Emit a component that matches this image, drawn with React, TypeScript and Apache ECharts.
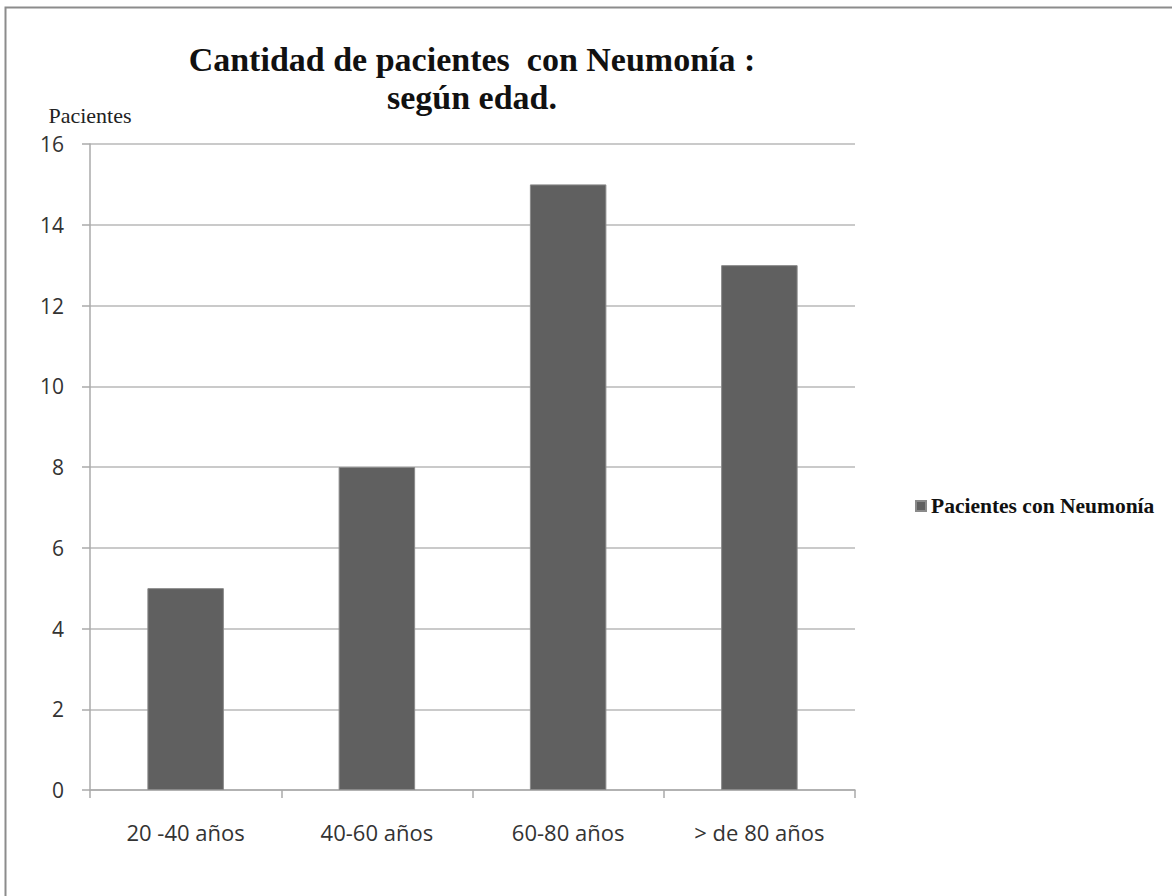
import React, { useEffect, useRef } from "react";
import * as echarts from "echarts";

const categories = ["20 -40 años", "40-60 años", "60-80 años", "> de 80 años"];
const values = [5, 8, 15, 13];
const seriesName = "Pacientes con Neumonía";
const titleLines = ["Cantidad de pacientes  con Neumonía :", "según edad."];
const yAxisName = "Pacientes";

export default function App() {
  const ref = useRef<HTMLDivElement>(null);
  useEffect(() => {
    if (!ref.current) return;
    const chart = echarts.init(ref.current, null, { renderer: "svg" });
    chart.setOption({
      animation: false,
      backgroundColor: "#ffffff",
      title: {
        text: titleLines.join("\n"),
        left: 467,
        textAlign: "center",
        top: 35,
        textStyle: {
          fontFamily: "Liberation Serif",
          fontWeight: "bold",
          fontSize: 34,
          lineHeight: 38,
          color: "#111111",
        },
      },
      legend: {
        orient: "vertical",
        left: 910,
        top: 490,
        itemWidth: 10,
        itemHeight: 10,
        itemGap: 4,
        icon: "rect",
        textStyle: {
          fontFamily: "Liberation Serif",
          fontWeight: "bold",
          fontSize: 21.5,
          color: "#111111",
        },
        data: [seriesName],
      },
      grid: { left: 90, right: 317, top: 144, bottom: 106 },
      xAxis: {
        type: "category",
        data: categories,
        boundaryGap: true,
        axisLine: { lineStyle: { color: "#aaaaaa", width: 1.5 } },
        axisTick: { show: true, length: 8, alignWithLabel: false, lineStyle: { color: "#aaaaaa", width: 1.5 } },
        axisLabel: {
          margin: 31,
          fontFamily: "Open Sans",
          fontSize: 22,
          color: "#333333",
        },
      },
      yAxis: {
        type: "value",
        min: 0,
        max: 16,
        interval: 2,
        name: yAxisName,
        nameLocation: "end",
        nameGap: 18,
        nameTextStyle: {
          fontFamily: "Liberation Serif",
          fontSize: 22,
          color: "#222222",
          align: "center",
        },
        axisLine: { show: true, lineStyle: { color: "#aaaaaa", width: 1.5 } },
        axisTick: { show: true, length: 8, lineStyle: { color: "#aaaaaa", width: 1.5 } },
        splitLine: { lineStyle: { color: "#b8b8b8", width: 1.5 } },
        axisLabel: {
          margin: 26,
          fontFamily: "Open Sans",
          fontSize: 21,
          color: "#333333",
        },
      },
      series: [
        {
          type: "bar",
          name: seriesName,
          data: values,
          barWidth: "40%",
          itemStyle: { color: "#606060", borderColor: "#8a8a8a", borderWidth: 1 },
        },
      ],
      graphic: [
        {
          type: "polyline",
          shape: { points: [[5.5, 896], [5.5, 7.5], [1172, 7.5]] },
          style: { stroke: "#8c8c8c", lineWidth: 2, fill: "none" },
          silent: true,
        },
      ],
    });
    return () => chart.dispose();
  }, []);
  return (
    <div
      ref={ref}
      style={{ position: "fixed", left: 0, top: 0, width: 1172, height: 896 }}
    />
  );
}
